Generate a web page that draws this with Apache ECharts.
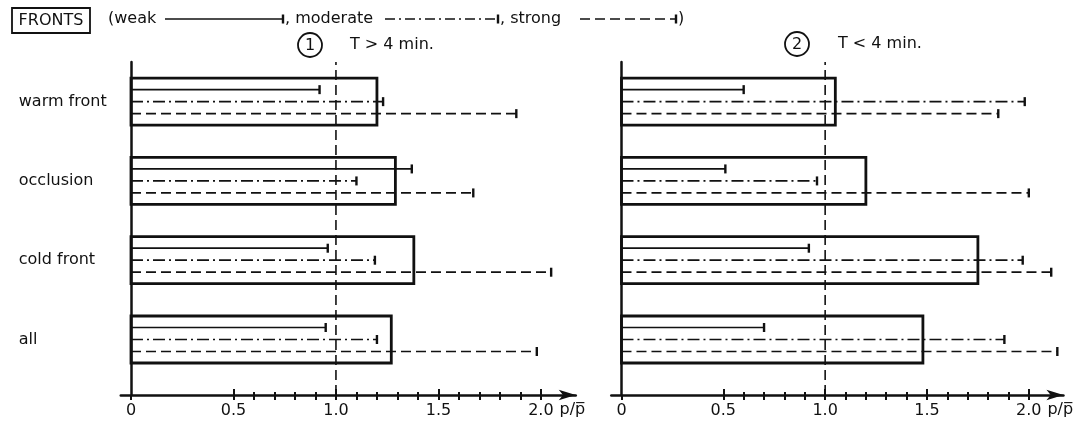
<!DOCTYPE html>
<html>
<head>
<meta charset="UTF-8">
<title>Fronts p/p</title>
<script src="https://cdn.jsdelivr.net/npm/echarts@6/dist/echarts.min.js"></script>
<style>
  html, body { margin: 0; background: #fff; }
  #chart { width: 1076px; height: 426px; }
</style>
</head>
<body>
<div id="chart"></div>
<script>
// categories from bottom to top, placed at y = 1..4
var categories = ['all', 'cold front', 'occlusion', 'warm front'];
var xLabels = [0, 0.5, 1.0, 1.5, 2.0];
var outerTicks = [0, 0.5, 0.6, 0.7, 0.8, 0.9, 1.0, 1.1, 1.2, 1.3, 1.4, 1.5, 1.6, 1.7, 1.8, 1.9, 2.0];
var majorTicks = [0.5, 1.0, 1.5, 2.0];
var minorTicks = [0.6, 0.7, 0.8, 0.9, 1.1, 1.2, 1.3, 1.4, 1.6, 1.7, 1.8, 1.9];

// panel 1 : T > 4 min
var bar1      = [1.27, 1.38, 1.29, 1.20];
var weak1     = [0.95, 0.96, 1.37, 0.92];
var moderate1 = [1.20, 1.19, 1.10, 1.23];
var strong1   = [1.98, 2.05, 1.67, 1.88];

// panel 2 : T < 4 min
var bar2      = [1.48, 1.75, 1.20, 1.05];
var weak2     = [0.70, 0.92, 0.51, 0.60];
var moderate2 = [1.88, 1.97, 0.96, 1.98];
var strong2   = [2.14, 2.11, 2.00, 1.85];

var INK = '#111';
var FONT = 'DejaVu Sans';

function rows(bar, weak, mod, strong) {
  return categories.map(function (c, i) {
    return [i + 1, bar[i], weak[i], mod[i], strong[i]];
  });
}

function renderFront(params, api) {
  var y = api.value(0);
  var origin = api.coord([0, y]);
  var barEnd = api.coord([api.value(1), y]);
  var children = [{
    type: 'rect',
    shape: { x: origin[0], y: origin[1] - 23.5, width: barEnd[0] - origin[0], height: 47 },
    style: { fill: 'none', stroke: INK, lineWidth: 2.8 }
  }];
  var offsets = [-12, 0, 12];
  var dashes = [null, [12, 4, 2, 4], [10, 5]];
  for (var k = 0; k < 3; k++) {
    var end = api.coord([api.value(2 + k), y]);
    var ly = origin[1] + offsets[k];
    var st = { stroke: INK, lineWidth: 1.7 };
    if (dashes[k]) st.lineDash = dashes[k];
    children.push({ type: 'line', shape: { x1: origin[0], y1: ly, x2: end[0], y2: ly }, style: st });
    children.push({ type: 'line', shape: { x1: end[0], y1: ly - 4.5, x2: end[0], y2: ly + 4.5 },
      style: { stroke: INK, lineWidth: 2.4 } });
  }
  return { type: 'group', children: children };
}

function xAxes(gridIndex) {
  var base = { type: 'value', gridIndex: gridIndex, min: -0.05, max: 2.17, position: 'bottom',
    splitLine: { show: false } };
  return [
    Object.assign({}, base, {
      name: 'p/p\u0305', nameLocation: 'end', nameGap: -20,
      nameTextStyle: { fontFamily: FONT, fontSize: 16, color: INK, align: 'left',
        verticalAlign: 'top', lineHeight: 30 },
      axisLine: { onZero: false, symbol: ['none', 'arrow'], symbolSize: [8, 17],
        lineStyle: { color: INK, width: 2.5 } },
      axisTick: { customValues: outerTicks, length: 5, lineStyle: { color: INK, width: 2 } },
      axisLabel: { customValues: xLabels, margin: 8, fontFamily: FONT, fontSize: 16, color: INK,
        formatter: function (v) { return v === 0 ? '0' : v.toFixed(1); } }
    }),
    Object.assign({}, base, {
      axisLine: { show: false, onZero: false },
      axisTick: { customValues: majorTicks, inside: true, length: 6, lineStyle: { color: INK, width: 2 } },
      axisLabel: { show: false }
    }),
    Object.assign({}, base, {
      axisLine: { show: false, onZero: false },
      axisTick: { customValues: minorTicks, inside: true, length: 3, lineStyle: { color: INK, width: 2 } },
      axisLabel: { show: false }
    })
  ];
}

function yAxis(gridIndex) {
  return {
    type: 'value', gridIndex: gridIndex, min: 0.3, max: 4.5,
    splitLine: { show: false },
    axisLine: { show: true, onZero: true, lineStyle: { color: INK, width: 2.5 } },
    axisTick: { show: false },
    axisLabel: {
      show: gridIndex === 0, customValues: [1, 2, 3, 4], align: 'left', margin: 102,
      fontFamily: FONT, fontSize: 16, color: INK,
      formatter: function (v) { return categories[Math.round(v) - 1]; }
    }
  };
}

function legendLine(x1, x2, y, dash) {
  var st = { stroke: INK, lineWidth: 1.7 };
  if (dash) st.lineDash = dash;
  return [
    { type: 'line', shape: { x1: x1, y1: y, x2: x2, y2: y }, style: st },
    { type: 'line', shape: { x1: x2, y1: y - 4.5, x2: x2, y2: y + 4.5 }, style: { stroke: INK, lineWidth: 2.4 } }
  ];
}

function txt(x, y, s, size, align) {
  return { type: 'text', x: x, y: y,
    style: { text: s, fontFamily: FONT, fontSize: size, fill: INK, align: align || 'left', verticalAlign: 'middle' } };
}

function circled(cx, cy, s) {
  return [
    { type: 'circle', shape: { cx: cx, cy: cy, r: 12 }, style: { fill: 'none', stroke: INK, lineWidth: 1.8 } },
    txt(cx, cy + 1, s, 16, 'center')
  ];
}

var graphics = [
  { type: 'rect', shape: { x: 12, y: 8, width: 78, height: 25 }, style: { fill: 'none', stroke: INK, lineWidth: 1.8 } },
  txt(51, 21, 'FRONTS', 16, 'center'),
  txt(108, 19, '(weak', 16)
].concat(legendLine(165, 283, 19, null))
 .concat([txt(285, 19, ', moderate', 16)])
 .concat(legendLine(385, 498, 19, [10, 4, 2, 4]))
 .concat([txt(500, 19, ', strong', 16)])
 .concat(legendLine(580, 676, 19, [10, 5]))
 .concat([txt(678, 19, ')', 16)])
 .concat(circled(310, 45, '1'))
 .concat([txt(350, 45, 'T > 4 min.', 16)])
 .concat(circled(797, 44, '2'))
 .concat([txt(838, 44, 'T < 4 min.', 16)]);

var chart = echarts.init(document.getElementById('chart'));
chart.setOption({
  animation: false,
  backgroundColor: '#fff',
  graphic: graphics,
  grid: [
    { left: 120.75, top: 62, width: 455, height: 333 },
    { left: 611.3, top: 62, width: 454, height: 333 }
  ],
  xAxis: xAxes(0).concat(xAxes(1)),
  yAxis: [yAxis(0), yAxis(1)],
  series: [
    { type: 'line', xAxisIndex: 0, yAxisIndex: 0, data: [[1, 0.3], [1, 4.5]], symbol: 'none', silent: true,
      lineStyle: { color: INK, width: 1.6, type: [10, 5] } },
    { type: 'line', xAxisIndex: 3, yAxisIndex: 1, data: [[1, 0.3], [1, 4.5]], symbol: 'none', silent: true,
      lineStyle: { color: INK, width: 1.6, type: [10, 5] } },
    { type: 'custom', xAxisIndex: 0, yAxisIndex: 0, renderItem: renderFront,
      encode: { x: [1, 2, 3, 4], y: 0 }, data: rows(bar1, weak1, moderate1, strong1) },
    { type: 'custom', xAxisIndex: 3, yAxisIndex: 1, renderItem: renderFront,
      encode: { x: [1, 2, 3, 4], y: 0 }, data: rows(bar2, weak2, moderate2, strong2) }
  ]
});
</script>
</body>
</html>
